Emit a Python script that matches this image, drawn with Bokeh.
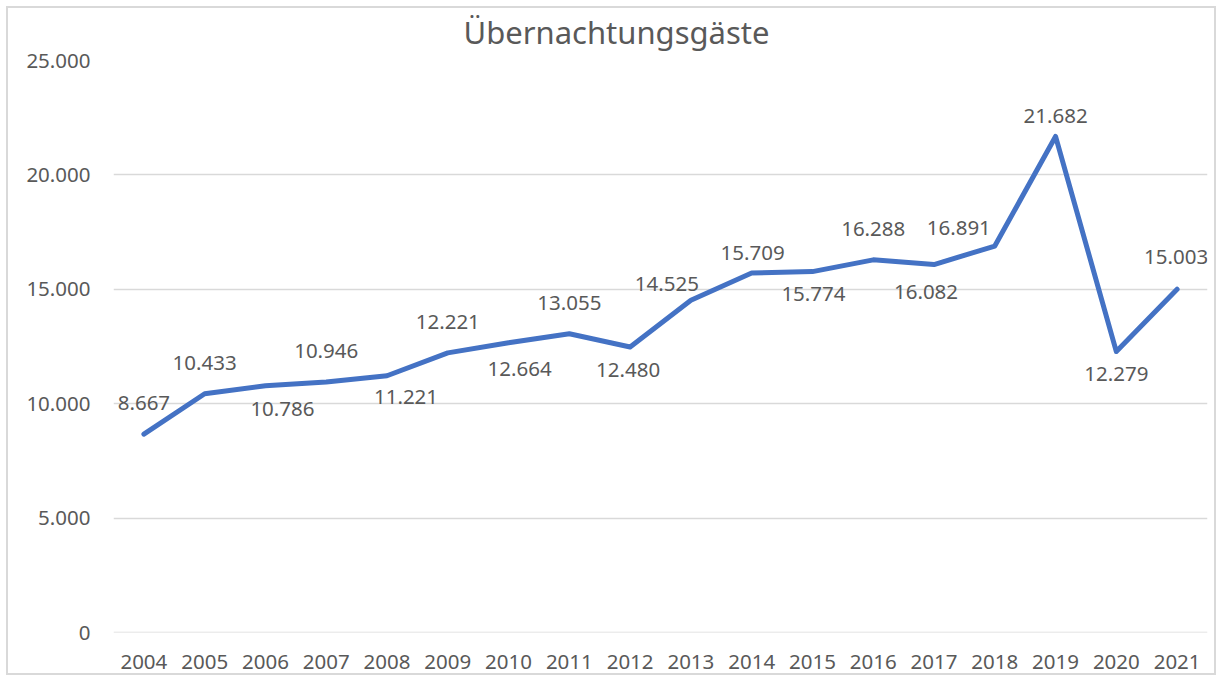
from bokeh.plotting import figure
from bokeh.models import ColumnDataSource, LabelSet, FixedTicker, Range1d, FactorRange, Span
from bokeh.core.properties import value
from bokeh.embed import file_html
from bokeh.resources import INLINE

# ---- data ----
years = [str(y) for y in range(2004, 2022)]
guests = [8667, 10433, 10786, 10946, 11221, 12221, 12664, 13055, 12480,
          14525, 15709, 15774, 16288, 16082, 16891, 21682, 12279, 15003]
y_ticks = [0, 5000, 10000, 15000, 20000, 25000]
y_tick_labels = ["0", "5.000", "10.000", "15.000", "20.000", "25.000"]

# data-label placement (pixel offsets from each point; positive dy = up)
label_dx = [0, 0, 17, 0, 19, 0, 11, 0, -2, -24, 1, 1, 0, -8, -36, 0, 0, -1]
label_dy = [31, 31, -23, 31, -21, 31, -26, 31, -23, 16, 20, -22, 31, -27, 18, 20, -22, 32]

TEXT = "#595959"
FONT = "Noto Sans"
GRID = "#D9D9D9"

labels = [f"{v:,}".replace(",", ".") for v in guests]
src = ColumnDataSource(dict(year=years, guests=guests, label=labels,
                            dx=label_dx, dy=label_dy))

p = figure(width=1210, height=675, output_backend="svg", toolbar_location=None,
           x_range=FactorRange(factors=years), y_range=Range1d(0, 25000),
           min_border_left=107, min_border_right=9, min_border_top=60,
           min_border_bottom=43,
           styles={"margin-left": "6px",
                   "box-shadow": "inset 0 6px 0 0 white, inset 0 8px 0 0 #d9d9d9, "
                                 "inset 0 0 0 2px #d9d9d9"})

# baseline gridline at 0 (frame edge)
p.add_layout(Span(location=y_ticks[0], dimension="width", line_color=GRID,
                  line_width=1.5, level="underlay"))

p.line(x="year", y="guests", source=src, line_width=5, line_color="#4472C4",
       line_join="round", line_cap="round")

ls = LabelSet(x="year", y="guests", text="label", source=src,
              x_offset="dx", y_offset="dy", text_align="center",
              text_baseline="middle", text_font_size=value("20.5px"),
              text_color=TEXT, text_font=value(FONT))
p.add_layout(ls)

# title
p.title.text = "Übernachtungsgäste"
p.title.align = "left"
p.title.offset = 350
p.title.text_font = FONT
p.title.text_font_size = "31px"
p.title.text_font_style = "normal"
p.title.text_color = TEXT
p.title.standoff = 16

# axes
for ax in (p.xaxis, p.yaxis):
    ax.axis_line_color = None
    ax.major_tick_line_color = None
    ax.minor_tick_line_color = None
    ax.major_tick_out = 0
    ax.major_tick_in = 0
    ax.major_label_text_font = FONT
    ax.major_label_text_font_size = "20.5px"
    ax.major_label_text_color = TEXT

p.yaxis.ticker = FixedTicker(ticks=y_ticks)
p.yaxis.major_label_overrides = {t: l for t, l in zip(y_ticks, y_tick_labels)}
p.yaxis.major_label_standoff = 23
p.xaxis.major_label_standoff = 22

p.xgrid.grid_line_color = None
p.ygrid.grid_line_color = GRID
p.ygrid.grid_line_width = 1.5
p.outline_line_color = None
p.background_fill_color = "white"
p.border_fill_color = None

open("out.html", "w").write(file_html(p, INLINE))
